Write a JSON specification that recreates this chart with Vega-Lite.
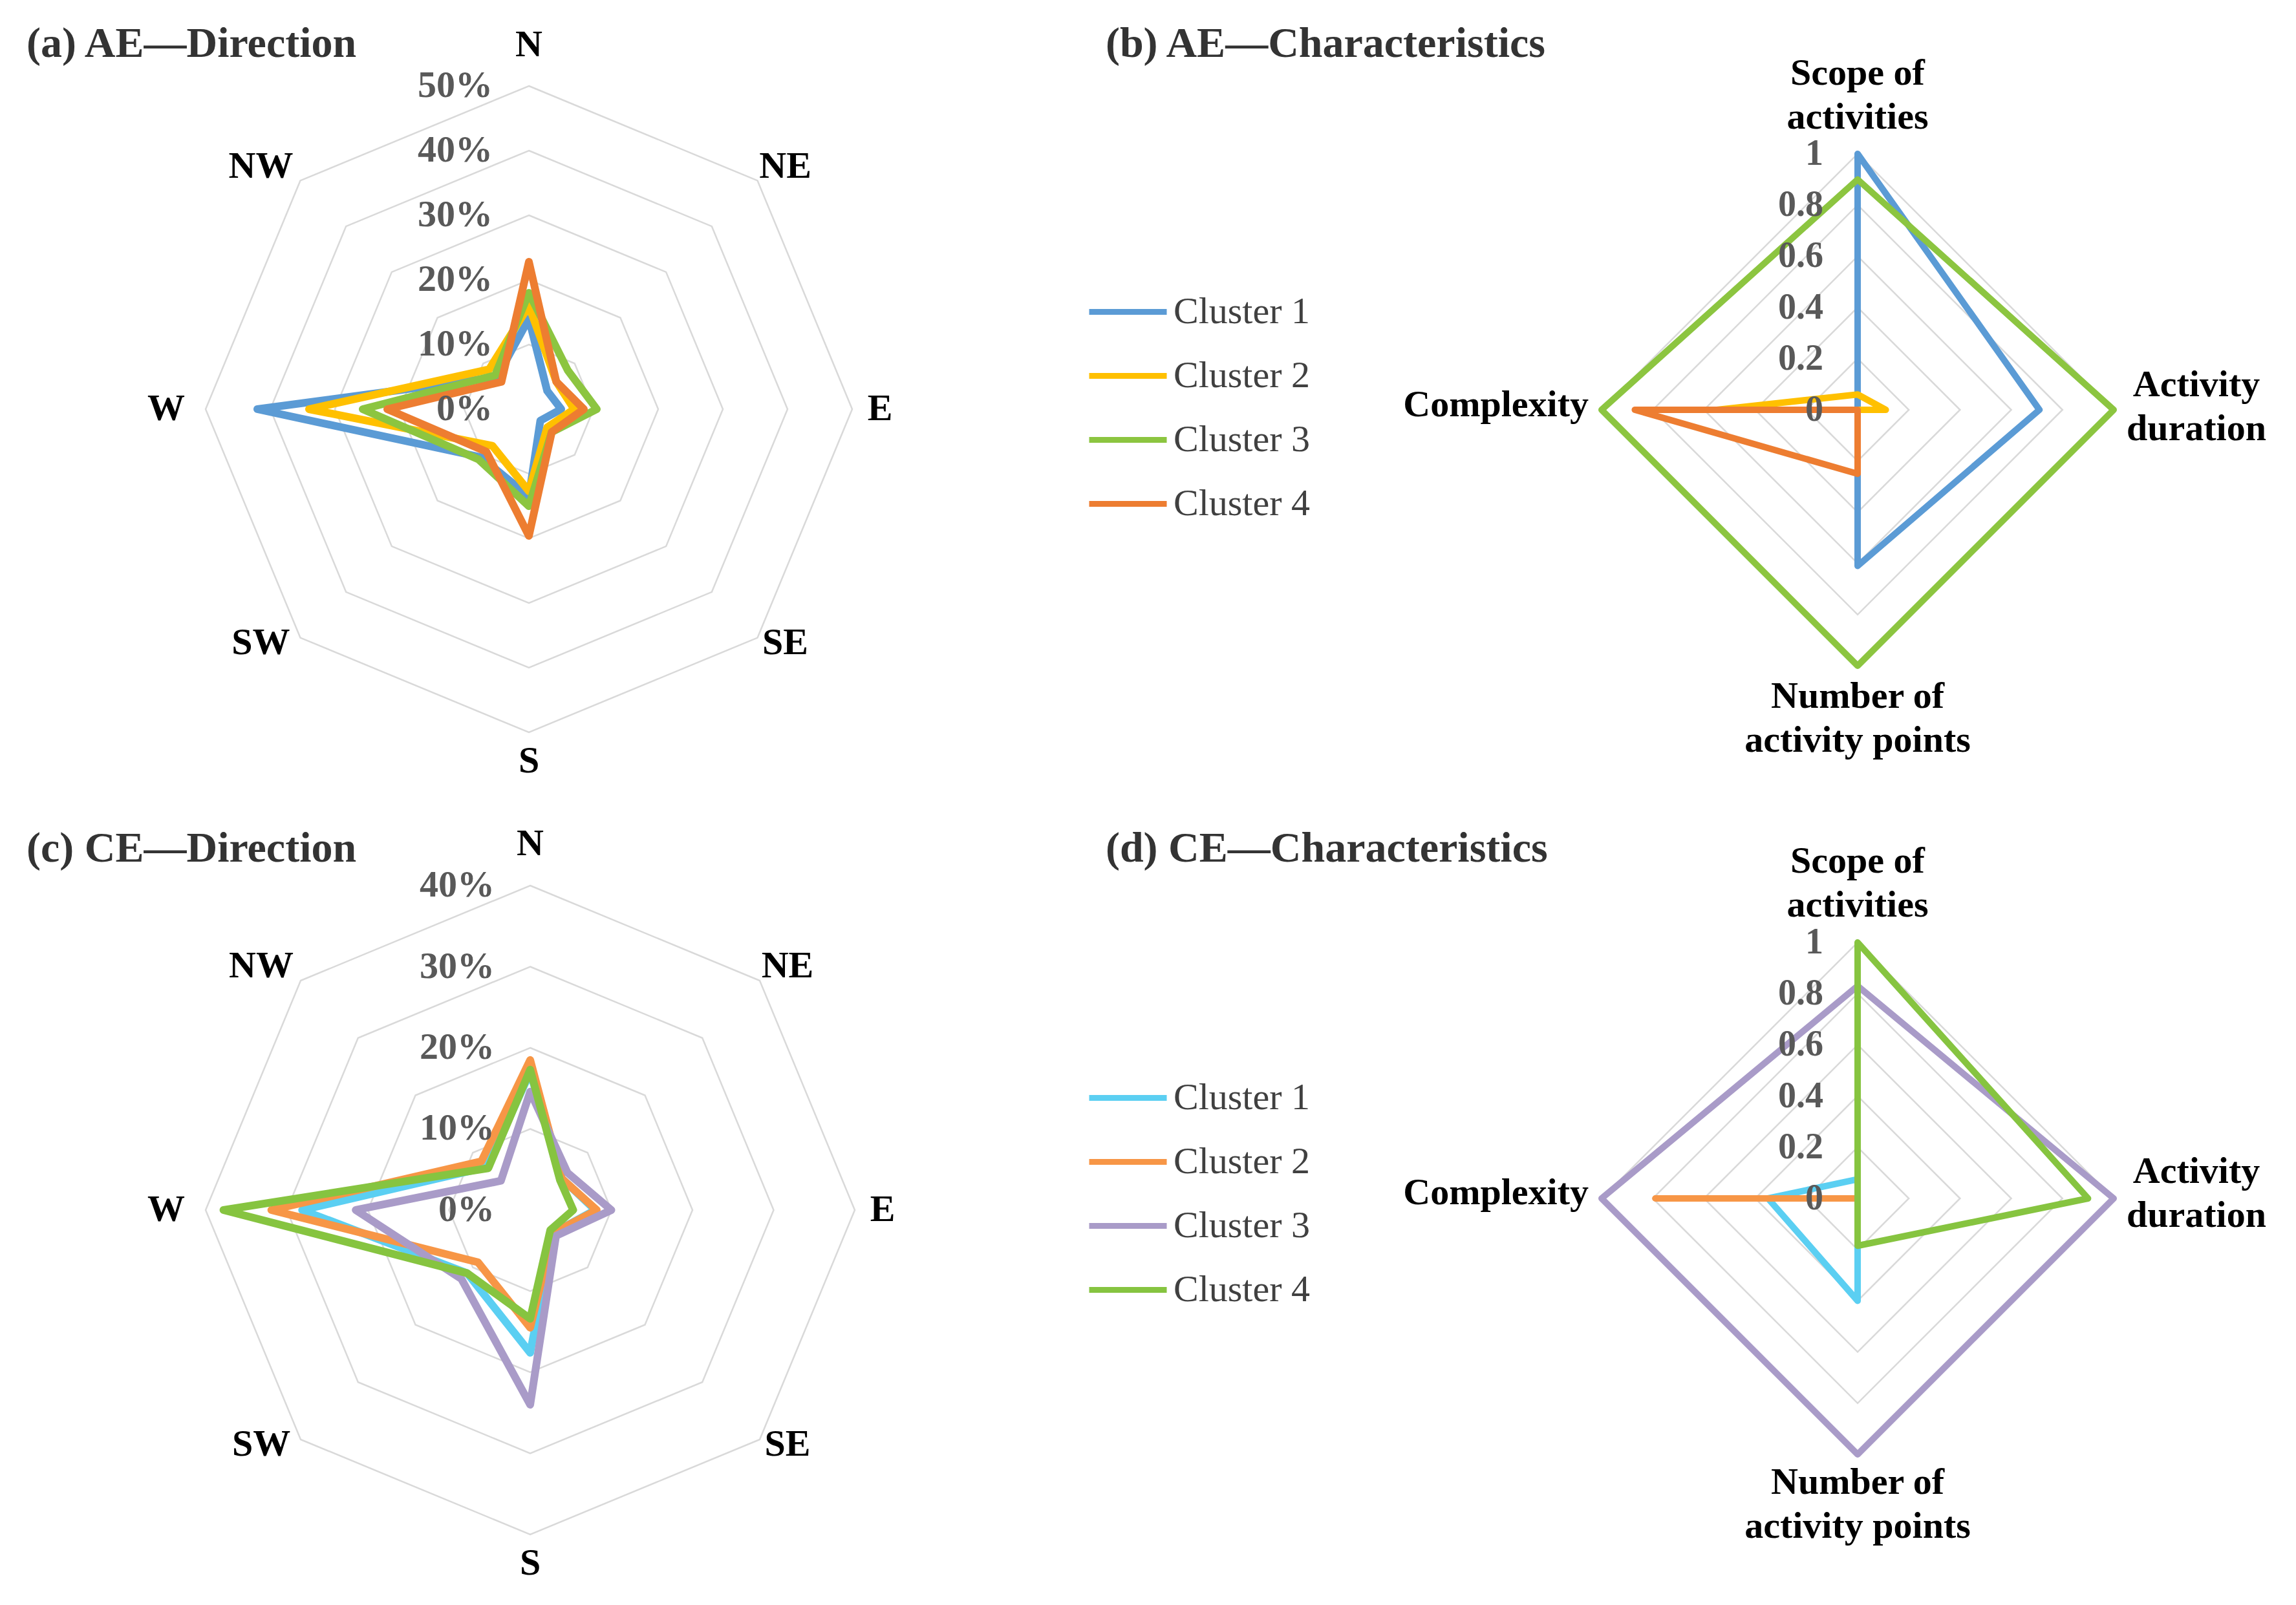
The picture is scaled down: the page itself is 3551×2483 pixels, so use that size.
{
  "$schema": "https://vega.github.io/schema/vega-lite/v6.json",
  "padding": 0,
  "background": "white",
  "spacing": 0,
  "config": {"view": {"stroke": null}, "text": {"font": "Liberation Serif"}},
  "resolve": {"scale": {"color": "independent"}, "legend": {"color": "independent"}},
  "datasets": {
    "ae_dir": [
      {"c": "Cluster 1", "d": "N", "v": 14}, {"c": "Cluster 1", "d": "NE", "v": 4}, {"c": "Cluster 1", "d": "E", "v": 5}, {"c": "Cluster 1", "d": "SE", "v": 2.5},
      {"c": "Cluster 1", "d": "S", "v": 13.5}, {"c": "Cluster 1", "d": "SW", "v": 10.5}, {"c": "Cluster 1", "d": "W", "v": 42}, {"c": "Cluster 1", "d": "NW", "v": 7},
      {"c": "Cluster 2", "d": "N", "v": 16}, {"c": "Cluster 2", "d": "NE", "v": 6}, {"c": "Cluster 2", "d": "E", "v": 7}, {"c": "Cluster 2", "d": "SE", "v": 4},
      {"c": "Cluster 2", "d": "S", "v": 12.7}, {"c": "Cluster 2", "d": "SW", "v": 8}, {"c": "Cluster 2", "d": "W", "v": 34}, {"c": "Cluster 2", "d": "NW", "v": 8.7},
      {"c": "Cluster 3", "d": "N", "v": 18}, {"c": "Cluster 3", "d": "NE", "v": 8.5}, {"c": "Cluster 3", "d": "E", "v": 10.5}, {"c": "Cluster 3", "d": "SE", "v": 5},
      {"c": "Cluster 3", "d": "S", "v": 15}, {"c": "Cluster 3", "d": "SW", "v": 11}, {"c": "Cluster 3", "d": "W", "v": 25.7}, {"c": "Cluster 3", "d": "NW", "v": 7.4},
      {"c": "Cluster 4", "d": "N", "v": 22.8}, {"c": "Cluster 4", "d": "NE", "v": 6}, {"c": "Cluster 4", "d": "E", "v": 8.5}, {"c": "Cluster 4", "d": "SE", "v": 5},
      {"c": "Cluster 4", "d": "S", "v": 19.6}, {"c": "Cluster 4", "d": "SW", "v": 9.3}, {"c": "Cluster 4", "d": "W", "v": 21.9}, {"c": "Cluster 4", "d": "NW", "v": 6}
    ],
    "ce_dir": [
      {"c": "Cluster 1", "d": "N", "v": 17}, {"c": "Cluster 1", "d": "NE", "v": 5.5}, {"c": "Cluster 1", "d": "E", "v": 8}, {"c": "Cluster 1", "d": "SE", "v": 4},
      {"c": "Cluster 1", "d": "S", "v": 17.6}, {"c": "Cluster 1", "d": "SW", "v": 11}, {"c": "Cluster 1", "d": "W", "v": 28.1}, {"c": "Cluster 1", "d": "NW", "v": 7.5},
      {"c": "Cluster 2", "d": "N", "v": 18.5}, {"c": "Cluster 2", "d": "NE", "v": 5.5}, {"c": "Cluster 2", "d": "E", "v": 8.2}, {"c": "Cluster 2", "d": "SE", "v": 4},
      {"c": "Cluster 2", "d": "S", "v": 14.5}, {"c": "Cluster 2", "d": "SW", "v": 9.1}, {"c": "Cluster 2", "d": "W", "v": 31.9}, {"c": "Cluster 2", "d": "NW", "v": 8.5},
      {"c": "Cluster 3", "d": "N", "v": 14.6}, {"c": "Cluster 3", "d": "NE", "v": 6.5}, {"c": "Cluster 3", "d": "E", "v": 10}, {"c": "Cluster 3", "d": "SE", "v": 4.5},
      {"c": "Cluster 3", "d": "S", "v": 24}, {"c": "Cluster 3", "d": "SW", "v": 12}, {"c": "Cluster 3", "d": "W", "v": 21.5}, {"c": "Cluster 3", "d": "NW", "v": 5.1},
      {"c": "Cluster 4", "d": "N", "v": 17.3}, {"c": "Cluster 4", "d": "NE", "v": 5.2}, {"c": "Cluster 4", "d": "E", "v": 5.3}, {"c": "Cluster 4", "d": "SE", "v": 3.5},
      {"c": "Cluster 4", "d": "S", "v": 13.4}, {"c": "Cluster 4", "d": "SW", "v": 11}, {"c": "Cluster 4", "d": "W", "v": 37.8}, {"c": "Cluster 4", "d": "NW", "v": 7.3}
    ],
    "ae_char": [
      {"c": "Cluster 1", "a": "Scope of activities", "v": 1.0}, {"c": "Cluster 1", "a": "Activity duration", "v": 0.71}, {"c": "Cluster 1", "a": "Number of activity points", "v": 0.61}, {"c": "Cluster 1", "a": "Complexity", "v": 0},
      {"c": "Cluster 2", "a": "Scope of activities", "v": 0.06}, {"c": "Cluster 2", "a": "Activity duration", "v": 0.11}, {"c": "Cluster 2", "a": "Number of activity points", "v": 0}, {"c": "Cluster 2", "a": "Complexity", "v": 0.55},
      {"c": "Cluster 3", "a": "Scope of activities", "v": 0.9}, {"c": "Cluster 3", "a": "Activity duration", "v": 1.0}, {"c": "Cluster 3", "a": "Number of activity points", "v": 1.0}, {"c": "Cluster 3", "a": "Complexity", "v": 1.0},
      {"c": "Cluster 4", "a": "Scope of activities", "v": 0}, {"c": "Cluster 4", "a": "Activity duration", "v": 0}, {"c": "Cluster 4", "a": "Number of activity points", "v": 0.25}, {"c": "Cluster 4", "a": "Complexity", "v": 0.87}
    ],
    "ce_char": [
      {"c": "Cluster 1", "a": "Scope of activities", "v": 0.075}, {"c": "Cluster 1", "a": "Activity duration", "v": 0}, {"c": "Cluster 1", "a": "Number of activity points", "v": 0.4}, {"c": "Cluster 1", "a": "Complexity", "v": 0.35},
      {"c": "Cluster 2", "a": "Scope of activities", "v": 0}, {"c": "Cluster 2", "a": "Activity duration", "v": 0}, {"c": "Cluster 2", "a": "Number of activity points", "v": 0}, {"c": "Cluster 2", "a": "Complexity", "v": 0.79},
      {"c": "Cluster 3", "a": "Scope of activities", "v": 0.83}, {"c": "Cluster 3", "a": "Activity duration", "v": 1.0}, {"c": "Cluster 3", "a": "Number of activity points", "v": 1.0}, {"c": "Cluster 3", "a": "Complexity", "v": 1.0},
      {"c": "Cluster 4", "a": "Scope of activities", "v": 1.0}, {"c": "Cluster 4", "a": "Activity duration", "v": 0.9}, {"c": "Cluster 4", "a": "Number of activity points", "v": 0.185}, {"c": "Cluster 4", "a": "Complexity", "v": 0}
    ],
    "dirs": [{"d": "N"}, {"d": "NE"}, {"d": "E"}, {"d": "SE"}, {"d": "S"}, {"d": "SW"}, {"d": "W"}, {"d": "NW"}],
    "axes": [{"a": "Scope of activities"}, {"a": "Activity duration"}, {"a": "Number of activity points"}, {"a": "Complexity"}]
  },
  "vconcat": [
    {
      "spacing": 0,
      "resolve": {"scale": {"color": "independent"}, "legend": {"color": "independent"}},
      "hconcat": [
        {
          "width": 1640, "height": 1240,
          "layer": [
            {
              "data": {"name": "dirs"},
              "transform": [
                {"calculate": "[10,20,30,40,50]", "as": "lv"}, {"flatten": ["lv"]},
                {"calculate": "indexof(['N','NE','E','SE','S','SW','W','NW'], datum.d)", "as": "k"},
                {"calculate": "datum.lv*sin(datum.k*PI/4)", "as": "px"}, {"calculate": "datum.lv*cos(datum.k*PI/4)", "as": "py"}
              ],
              "mark": {"type": "line", "interpolate": "linear-closed", "stroke": "#D9D9D9", "strokeWidth": 2.5},
              "encoding": {
                "x": {"field": "px", "type": "quantitative", "scale": {"domain": [-81.8, 82.2], "nice": false, "zero": false}, "axis": null},
                "y": {"field": "py", "type": "quantitative", "scale": {"domain": [-60.7, 63.3], "nice": false, "zero": false}, "axis": null},
                "detail": {"field": "lv"}, "order": {"field": "k"}
              }
            },
            {
              "data": {"name": "ae_dir"},
              "transform": [
                {"calculate": "indexof(['N','NE','E','SE','S','SW','W','NW'], datum.d)", "as": "k"},
                {"calculate": "datum.v*sin(datum.k*PI/4)", "as": "px"}, {"calculate": "datum.v*cos(datum.k*PI/4)", "as": "py"}
              ],
              "mark": {"type": "line", "interpolate": "linear-closed", "strokeWidth": 12, "strokeJoin": "round"},
              "encoding": {
                "x": {"field": "px", "type": "quantitative", "scale": {"domain": [-81.8, 82.2], "nice": false, "zero": false}, "axis": null},
                "y": {"field": "py", "type": "quantitative", "scale": {"domain": [-60.7, 63.3], "nice": false, "zero": false}, "axis": null},
                "color": {"field": "c", "type": "nominal", "scale": {"domain": ["Cluster 1", "Cluster 2", "Cluster 3", "Cluster 4"], "range": ["#5B9BD5", "#FFC000", "#8CC540", "#ED7D31"]}, "legend": null},
                "order": {"field": "k"}
              }
            },
            {
              "data": {"values": [{"lv": 0, "t": "0%"}, {"lv": 10, "t": "10%"}, {"lv": 20, "t": "20%"}, {"lv": 30, "t": "30%"}, {"lv": 40, "t": "40%"}, {"lv": 50, "t": "50%"}]},
              "mark": {"type": "text", "align": "right", "baseline": "middle", "dx": -56, "fontSize": 58, "fontWeight": "bold", "color": "#595959"},
              "encoding": {
                "x": {"datum": 0, "type": "quantitative", "scale": {"domain": [-81.8, 82.2], "nice": false, "zero": false}, "axis": null},
                "y": {"field": "lv", "type": "quantitative", "scale": {"domain": [-60.7, 63.3], "nice": false, "zero": false}, "axis": null},
                "text": {"field": "t"}
              }
            },
            {
              "data": {"name": "dirs"},
              "transform": [
                {"calculate": "indexof(['N','NE','E','SE','S','SW','W','NW'], datum.d)", "as": "k"},
                {"calculate": "sin(datum.k*PI/4)", "as": "s"}, {"calculate": "cos(datum.k*PI/4)", "as": "co"},
                {"calculate": "50*datum.s + (datum.s > 0.1 ? 43 : datum.s < -0.1 ? -61 : 0)/10", "as": "px"},
                {"calculate": "50*datum.co + (datum.co > 0.9 ? 63 : datum.co > 0.1 ? 21 : datum.co < -0.9 ? -45 : datum.co < -0.1 ? -8 : 0)/10", "as": "py"}
              ],
              "mark": {"type": "text", "align": "center", "baseline": "middle", "fontSize": 58, "fontWeight": "bold", "color": "#000000"},
              "encoding": {
                "x": {"field": "px", "type": "quantitative", "scale": {"domain": [-81.8, 82.2], "nice": false, "zero": false}, "axis": null},
                "y": {"field": "py", "type": "quantitative", "scale": {"domain": [-60.7, 63.3], "nice": false, "zero": false}, "axis": null},
                "text": {"field": "d"}
              }
            },
            {
              "data": {"values": [{"t": "(a) AE—Direction"}]},
              "mark": {"type": "text", "align": "left", "baseline": "middle", "fontSize": 66, "fontWeight": "bold", "color": "#333333"},
              "encoding": {
                "x": {"datum": -77.7, "type": "quantitative", "scale": {"domain": [-81.8, 82.2], "nice": false, "zero": false}, "axis": null},
                "y": {"datum": 56.5, "type": "quantitative", "scale": {"domain": [-60.7, 63.3], "nice": false, "zero": false}, "axis": null},
                "text": {"field": "t"}
              }
            }
          ]
        },
        {
          "width": 1911, "height": 1240,
          "layer": [
            {
              "data": {"name": "axes"},
              "transform": [
                {"calculate": "[0.2,0.4,0.6,0.8,1]", "as": "lv"}, {"flatten": ["lv"]},
                {"calculate": "indexof(['Scope of activities','Activity duration','Number of activity points','Complexity'], datum.a)", "as": "k"},
                {"calculate": "datum.lv*sin(datum.k*PI/2)", "as": "px"}, {"calculate": "datum.lv*cos(datum.k*PI/2)", "as": "py"}
              ],
              "mark": {"type": "line", "interpolate": "linear-closed", "stroke": "#D9D9D9", "strokeWidth": 2.5},
              "encoding": {
                "x": {"field": "px", "type": "quantitative", "scale": {"domain": [-3.1136, 1.7121], "nice": false, "zero": false}, "axis": null},
                "y": {"field": "py", "type": "quantitative", "scale": {"domain": [-1.5303, 1.601], "nice": false, "zero": false}, "axis": null},
                "detail": {"field": "lv"}, "order": {"field": "k"}
              }
            },
            {
              "data": {"name": "ae_char"},
              "transform": [
                {"calculate": "indexof(['Scope of activities','Activity duration','Number of activity points','Complexity'], datum.a)", "as": "k"},
                {"calculate": "datum.v*sin(datum.k*PI/2)", "as": "px"}, {"calculate": "datum.v*cos(datum.k*PI/2)", "as": "py"}
              ],
              "mark": {"type": "line", "interpolate": "linear-closed", "strokeWidth": 10, "strokeJoin": "round"},
              "encoding": {
                "x": {"field": "px", "type": "quantitative", "scale": {"domain": [-3.1136, 1.7121], "nice": false, "zero": false}, "axis": null},
                "y": {"field": "py", "type": "quantitative", "scale": {"domain": [-1.5303, 1.601], "nice": false, "zero": false}, "axis": null},
                "color": {"field": "c", "type": "nominal", "scale": {"domain": ["Cluster 1", "Cluster 2", "Cluster 3", "Cluster 4"], "range": ["#5B9BD5", "#FFC000", "#8CC540", "#ED7D31"]},
                  "legend": {"orient": "none", "legendX": 40, "legendY": 418, "title": null, "symbolType": "stroke", "symbolSize": 14400, "symbolStrokeWidth": 9, "labelFont": "Liberation Serif", "labelFontSize": 58, "labelColor": "#404040", "labelOffset": 6, "rowPadding": 5, "padding": 0, "labelLimit": 500}},
                "order": {"field": "k"}
              }
            },
            {
              "data": {"values": [{"lv": 0, "t": "0"}, {"lv": 0.2, "t": "0.2"}, {"lv": 0.4, "t": "0.4"}, {"lv": 0.6, "t": "0.6"}, {"lv": 0.8, "t": "0.8"}, {"lv": 1, "t": "1"}]},
              "mark": {"type": "text", "align": "right", "baseline": "middle", "dx": -53, "fontSize": 56, "fontWeight": "bold", "color": "#595959"},
              "encoding": {
                "x": {"datum": 0, "type": "quantitative", "scale": {"domain": [-3.1136, 1.7121], "nice": false, "zero": false}, "axis": null},
                "y": {"field": "lv", "type": "quantitative", "scale": {"domain": [-1.5303, 1.601], "nice": false, "zero": false}, "axis": null},
                "text": {"field": "t"}
              }
            },
            {
              "data": {"values": [{"t": "Scope of\nactivities"}]},
              "mark": {"type": "text", "align": "center", "baseline": "middle", "dy": -124, "lineBreak": "\n", "lineHeight": 68, "fontSize": 58, "fontWeight": "bold", "color": "#000000"},
              "encoding": {
                "x": {"datum": 0, "type": "quantitative", "scale": {"domain": [-3.1136, 1.7121], "nice": false, "zero": false}, "axis": null},
                "y": {"datum": 1, "type": "quantitative", "scale": {"domain": [-1.5303, 1.601], "nice": false, "zero": false}, "axis": null},
                "text": {"field": "t"}
              }
            },
            {
              "data": {"values": [{"t": "Activity\nduration"}]},
              "mark": {"type": "text", "align": "center", "baseline": "middle", "dx": 128, "dy": -38, "lineBreak": "\n", "lineHeight": 68, "fontSize": 58, "fontWeight": "bold", "color": "#000000"},
              "encoding": {
                "x": {"datum": 1, "type": "quantitative", "scale": {"domain": [-3.1136, 1.7121], "nice": false, "zero": false}, "axis": null},
                "y": {"datum": 0, "type": "quantitative", "scale": {"domain": [-1.5303, 1.601], "nice": false, "zero": false}, "axis": null},
                "text": {"field": "t"}
              }
            },
            {
              "data": {"values": [{"t": "Number of\nactivity points"}]},
              "mark": {"type": "text", "align": "center", "baseline": "middle", "dy": 48, "lineBreak": "\n", "lineHeight": 68, "fontSize": 58, "fontWeight": "bold", "color": "#000000"},
              "encoding": {
                "x": {"datum": 0, "type": "quantitative", "scale": {"domain": [-3.1136, 1.7121], "nice": false, "zero": false}, "axis": null},
                "y": {"datum": -1, "type": "quantitative", "scale": {"domain": [-1.5303, 1.601], "nice": false, "zero": false}, "axis": null},
                "text": {"field": "t"}
              }
            },
            {
              "data": {"values": [{"t": "Complexity"}]},
              "mark": {"type": "text", "align": "right", "baseline": "middle", "dx": -20, "dy": -7, "fontSize": 58, "fontWeight": "bold", "color": "#000000"},
              "encoding": {
                "x": {"datum": -1, "type": "quantitative", "scale": {"domain": [-3.1136, 1.7121], "nice": false, "zero": false}, "axis": null},
                "y": {"datum": 0, "type": "quantitative", "scale": {"domain": [-1.5303, 1.601], "nice": false, "zero": false}, "axis": null},
                "text": {"field": "t"}
              }
            },
            {
              "data": {"values": [{"t": "(b) AE—Characteristics"}]},
              "mark": {"type": "text", "align": "left", "baseline": "middle", "fontSize": 66, "fontWeight": "bold", "color": "#333333"},
              "encoding": {
                "x": {"datum": -2.937, "type": "quantitative", "scale": {"domain": [-3.1136, 1.7121], "nice": false, "zero": false}, "axis": null},
                "y": {"datum": 1.429, "type": "quantitative", "scale": {"domain": [-1.5303, 1.601], "nice": false, "zero": false}, "axis": null},
                "text": {"field": "t"}
              }
            }
          ]
        }
      ]
    },
    {
      "spacing": 0,
      "resolve": {"scale": {"color": "independent"}, "legend": {"color": "independent"}},
      "hconcat": [
        {
          "width": 1640, "height": 1243,
          "layer": [
            {
              "data": {"name": "dirs"},
              "transform": [
                {"calculate": "[10,20,30,40]", "as": "lv"}, {"flatten": ["lv"]},
                {"calculate": "indexof(['N','NE','E','SE','S','SW','W','NW'], datum.d)", "as": "k"},
                {"calculate": "datum.lv*sin(datum.k*PI/4)", "as": "px"}, {"calculate": "datum.lv*cos(datum.k*PI/4)", "as": "py"}
              ],
              "mark": {"type": "line", "interpolate": "linear-closed", "stroke": "#D9D9D9", "strokeWidth": 2.5},
              "encoding": {
                "x": {"field": "px", "type": "quantitative", "scale": {"domain": [-65.34, 65.34], "nice": false, "zero": false}, "axis": null},
                "y": {"field": "py", "type": "quantitative", "scale": {"domain": [-48.69, 50.36], "nice": false, "zero": false}, "axis": null},
                "detail": {"field": "lv"}, "order": {"field": "k"}
              }
            },
            {
              "data": {"name": "ce_dir"},
              "transform": [
                {"calculate": "indexof(['N','NE','E','SE','S','SW','W','NW'], datum.d)", "as": "k"},
                {"calculate": "datum.v*sin(datum.k*PI/4)", "as": "px"}, {"calculate": "datum.v*cos(datum.k*PI/4)", "as": "py"}
              ],
              "mark": {"type": "line", "interpolate": "linear-closed", "strokeWidth": 12, "strokeJoin": "round"},
              "encoding": {
                "x": {"field": "px", "type": "quantitative", "scale": {"domain": [-65.34, 65.34], "nice": false, "zero": false}, "axis": null},
                "y": {"field": "py", "type": "quantitative", "scale": {"domain": [-48.69, 50.36], "nice": false, "zero": false}, "axis": null},
                "color": {"field": "c", "type": "nominal", "scale": {"domain": ["Cluster 1", "Cluster 2", "Cluster 3", "Cluster 4"], "range": ["#5BCFF2", "#F79646", "#A99BC8", "#86C440"]}, "legend": null},
                "order": {"field": "k"}
              }
            },
            {
              "data": {"values": [{"lv": 0, "t": "0%"}, {"lv": 10, "t": "10%"}, {"lv": 20, "t": "20%"}, {"lv": 30, "t": "30%"}, {"lv": 40, "t": "40%"}]},
              "mark": {"type": "text", "align": "right", "baseline": "middle", "dx": -55, "fontSize": 58, "fontWeight": "bold", "color": "#595959"},
              "encoding": {
                "x": {"datum": 0, "type": "quantitative", "scale": {"domain": [-65.34, 65.34], "nice": false, "zero": false}, "axis": null},
                "y": {"field": "lv", "type": "quantitative", "scale": {"domain": [-48.69, 50.36], "nice": false, "zero": false}, "axis": null},
                "text": {"field": "t"}
              }
            },
            {
              "data": {"name": "dirs"},
              "transform": [
                {"calculate": "indexof(['N','NE','E','SE','S','SW','W','NW'], datum.d)", "as": "k"},
                {"calculate": "sin(datum.k*PI/4)", "as": "s"}, {"calculate": "cos(datum.k*PI/4)", "as": "co"},
                {"calculate": "40*datum.s + (datum.s > 0.1 ? 43 : datum.s < -0.1 ? -61 : 0)/12.55", "as": "px"},
                {"calculate": "40*datum.co + (datum.co > 0.9 ? 64 : datum.co > 0.1 ? 22 : datum.co < -0.9 ? -45 : datum.co < -0.1 ? -8 : 0)/12.55", "as": "py"}
              ],
              "mark": {"type": "text", "align": "center", "baseline": "middle", "fontSize": 58, "fontWeight": "bold", "color": "#000000"},
              "encoding": {
                "x": {"field": "px", "type": "quantitative", "scale": {"domain": [-65.34, 65.34], "nice": false, "zero": false}, "axis": null},
                "y": {"field": "py", "type": "quantitative", "scale": {"domain": [-48.69, 50.36], "nice": false, "zero": false}, "axis": null},
                "text": {"field": "d"}
              }
            },
            {
              "data": {"values": [{"t": "(c) CE—Direction"}]},
              "mark": {"type": "text", "align": "left", "baseline": "middle", "fontSize": 66, "fontWeight": "bold", "color": "#333333"},
              "encoding": {
                "x": {"datum": -62.07, "type": "quantitative", "scale": {"domain": [-65.34, 65.34], "nice": false, "zero": false}, "axis": null},
                "y": {"datum": 44.54, "type": "quantitative", "scale": {"domain": [-48.69, 50.36], "nice": false, "zero": false}, "axis": null},
                "text": {"field": "t"}
              }
            }
          ]
        },
        {
          "width": 1911, "height": 1243,
          "layer": [
            {
              "data": {"name": "axes"},
              "transform": [
                {"calculate": "[0.2,0.4,0.6,0.8,1]", "as": "lv"}, {"flatten": ["lv"]},
                {"calculate": "indexof(['Scope of activities','Activity duration','Number of activity points','Complexity'], datum.a)", "as": "k"},
                {"calculate": "datum.lv*sin(datum.k*PI/2)", "as": "px"}, {"calculate": "datum.lv*cos(datum.k*PI/2)", "as": "py"}
              ],
              "mark": {"type": "line", "interpolate": "linear-closed", "stroke": "#D9D9D9", "strokeWidth": 2.5},
              "encoding": {
                "x": {"field": "px", "type": "quantitative", "scale": {"domain": [-3.1136, 1.7121], "nice": false, "zero": false}, "axis": null},
                "y": {"field": "py", "type": "quantitative", "scale": {"domain": [-1.5884, 1.5505], "nice": false, "zero": false}, "axis": null},
                "detail": {"field": "lv"}, "order": {"field": "k"}
              }
            },
            {
              "data": {"name": "ce_char"},
              "transform": [
                {"calculate": "indexof(['Scope of activities','Activity duration','Number of activity points','Complexity'], datum.a)", "as": "k"},
                {"calculate": "datum.v*sin(datum.k*PI/2)", "as": "px"}, {"calculate": "datum.v*cos(datum.k*PI/2)", "as": "py"}
              ],
              "mark": {"type": "line", "interpolate": "linear-closed", "strokeWidth": 10, "strokeJoin": "round"},
              "encoding": {
                "x": {"field": "px", "type": "quantitative", "scale": {"domain": [-3.1136, 1.7121], "nice": false, "zero": false}, "axis": null},
                "y": {"field": "py", "type": "quantitative", "scale": {"domain": [-1.5884, 1.5505], "nice": false, "zero": false}, "axis": null},
                "color": {"field": "c", "type": "nominal", "scale": {"domain": ["Cluster 1", "Cluster 2", "Cluster 3", "Cluster 4"], "range": ["#5BCFF2", "#F79646", "#A99BC8", "#86C440"]},
                  "legend": {"orient": "none", "legendX": 40, "legendY": 394, "title": null, "symbolType": "stroke", "symbolSize": 14400, "symbolStrokeWidth": 9, "labelFont": "Liberation Serif", "labelFontSize": 58, "labelColor": "#404040", "labelOffset": 6, "rowPadding": 5, "padding": 0, "labelLimit": 500}},
                "order": {"field": "k"}
              }
            },
            {
              "data": {"values": [{"lv": 0, "t": "0"}, {"lv": 0.2, "t": "0.2"}, {"lv": 0.4, "t": "0.4"}, {"lv": 0.6, "t": "0.6"}, {"lv": 0.8, "t": "0.8"}, {"lv": 1, "t": "1"}]},
              "mark": {"type": "text", "align": "right", "baseline": "middle", "dx": -53, "fontSize": 56, "fontWeight": "bold", "color": "#595959"},
              "encoding": {
                "x": {"datum": 0, "type": "quantitative", "scale": {"domain": [-3.1136, 1.7121], "nice": false, "zero": false}, "axis": null},
                "y": {"field": "lv", "type": "quantitative", "scale": {"domain": [-1.5884, 1.5505], "nice": false, "zero": false}, "axis": null},
                "text": {"field": "t"}
              }
            },
            {
              "data": {"values": [{"t": "Scope of\nactivities"}]},
              "mark": {"type": "text", "align": "center", "baseline": "middle", "dy": -125, "lineBreak": "\n", "lineHeight": 68, "fontSize": 58, "fontWeight": "bold", "color": "#000000"},
              "encoding": {
                "x": {"datum": 0, "type": "quantitative", "scale": {"domain": [-3.1136, 1.7121], "nice": false, "zero": false}, "axis": null},
                "y": {"datum": 1, "type": "quantitative", "scale": {"domain": [-1.5884, 1.5505], "nice": false, "zero": false}, "axis": null},
                "text": {"field": "t"}
              }
            },
            {
              "data": {"values": [{"t": "Activity\nduration"}]},
              "mark": {"type": "text", "align": "center", "baseline": "middle", "dx": 128, "dy": -41, "lineBreak": "\n", "lineHeight": 68, "fontSize": 58, "fontWeight": "bold", "color": "#000000"},
              "encoding": {
                "x": {"datum": 1, "type": "quantitative", "scale": {"domain": [-3.1136, 1.7121], "nice": false, "zero": false}, "axis": null},
                "y": {"datum": 0, "type": "quantitative", "scale": {"domain": [-1.5884, 1.5505], "nice": false, "zero": false}, "axis": null},
                "text": {"field": "t"}
              }
            },
            {
              "data": {"values": [{"t": "Number of\nactivity points"}]},
              "mark": {"type": "text", "align": "center", "baseline": "middle", "dy": 44, "lineBreak": "\n", "lineHeight": 68, "fontSize": 58, "fontWeight": "bold", "color": "#000000"},
              "encoding": {
                "x": {"datum": 0, "type": "quantitative", "scale": {"domain": [-3.1136, 1.7121], "nice": false, "zero": false}, "axis": null},
                "y": {"datum": -1, "type": "quantitative", "scale": {"domain": [-1.5884, 1.5505], "nice": false, "zero": false}, "axis": null},
                "text": {"field": "t"}
              }
            },
            {
              "data": {"values": [{"t": "Complexity"}]},
              "mark": {"type": "text", "align": "right", "baseline": "middle", "dx": -20, "dy": -8, "fontSize": 58, "fontWeight": "bold", "color": "#000000"},
              "encoding": {
                "x": {"datum": -1, "type": "quantitative", "scale": {"domain": [-3.1136, 1.7121], "nice": false, "zero": false}, "axis": null},
                "y": {"datum": 0, "type": "quantitative", "scale": {"domain": [-1.5884, 1.5505], "nice": false, "zero": false}, "axis": null},
                "text": {"field": "t"}
              }
            },
            {
              "data": {"values": [{"t": "(d) CE—Characteristics"}]},
              "mark": {"type": "text", "align": "left", "baseline": "middle", "fontSize": 66, "fontWeight": "bold", "color": "#333333"},
              "encoding": {
                "x": {"datum": -2.937, "type": "quantitative", "scale": {"domain": [-3.1136, 1.7121], "nice": false, "zero": false}, "axis": null},
                "y": {"datum": 1.366, "type": "quantitative", "scale": {"domain": [-1.5884, 1.5505], "nice": false, "zero": false}, "axis": null},
                "text": {"field": "t"}
              }
            }
          ]
        }
      ]
    }
  ]
}
